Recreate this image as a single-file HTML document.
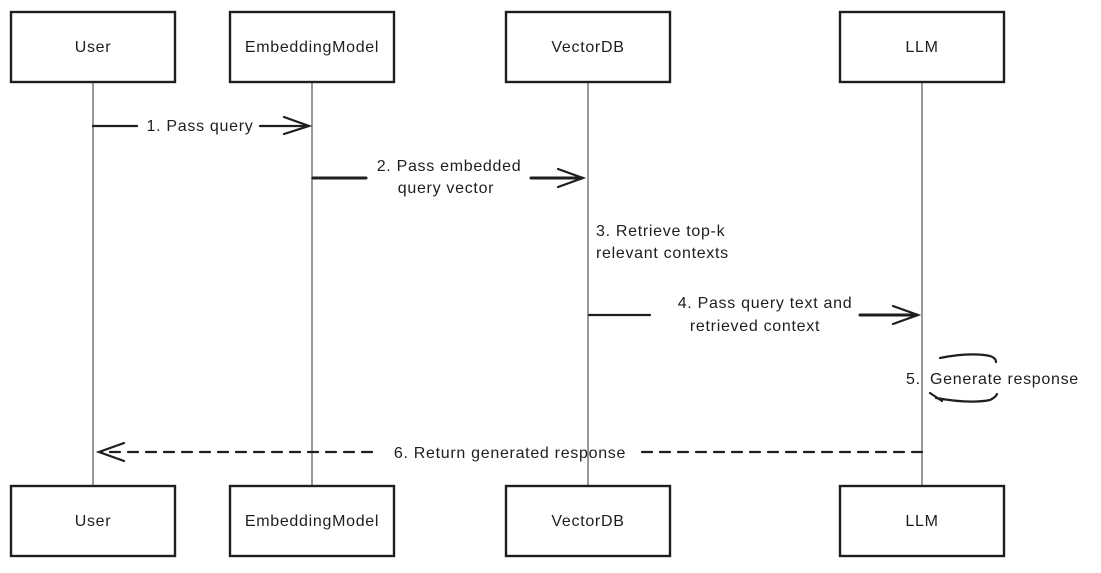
<!DOCTYPE html>
<html><head><meta charset="utf-8"><style>
html,body{margin:0;padding:0;background:#fff;}
svg{display:block;}
text{font-family:"Liberation Sans",sans-serif;font-size:16px;letter-spacing:0.7px;fill:#1e1e1e;}
</style></head><body>
<svg width="1101" height="573" viewBox="0 0 1101 573" xmlns="http://www.w3.org/2000/svg">
<g stroke="#999" stroke-width="2">
<line x1="93" y1="82" x2="93" y2="486"/>
<line x1="312" y1="82" x2="312" y2="486"/>
<line x1="588" y1="82" x2="588" y2="486"/>
<line x1="922" y1="82" x2="922" y2="486"/>
</g>
<g fill="#fff" stroke="#1e1e1e" stroke-width="2.4">
<rect x="11" y="12" width="164" height="70"/>
<rect x="230" y="12" width="164" height="70"/>
<rect x="506" y="12" width="164" height="70"/>
<rect x="840" y="12" width="164" height="70"/>
<rect x="11" y="486" width="164" height="70"/>
<rect x="230" y="486" width="164" height="70"/>
<rect x="506" y="486" width="164" height="70"/>
<rect x="840" y="486" width="164" height="70"/>
</g>
<g text-anchor="middle">
<text x="93" y="52">User</text>
<text x="312" y="52">EmbeddingModel</text>
<text x="588" y="52">VectorDB</text>
<text x="922" y="52">LLM</text>
<text x="93" y="526">User</text>
<text x="312" y="526">EmbeddingModel</text>
<text x="588" y="526">VectorDB</text>
<text x="922" y="526">LLM</text>
</g>
<g stroke="#1e1e1e" stroke-width="2.2" fill="none" stroke-linecap="round">
<line x1="93" y1="126" x2="137" y2="126"/>
<line x1="260" y1="126" x2="308" y2="126"/>
<polyline points="284,117 309,126 284,134"/>
<line x1="313" y1="178" x2="366" y2="178" stroke-width="3"/>
<line x1="531" y1="178" x2="582" y2="178" stroke-width="3"/>
<polyline points="558,169 583,178 558,187"/>
<line x1="589" y1="315" x2="650" y2="315"/>
<line x1="860" y1="315" x2="917" y2="315" stroke-width="3"/>
<polyline points="893,306 918,315 893,324"/>
<path d="M940,358 Q970,352 990,356 Q996,358 996,362"/>
<path d="M930,393 L942,401 M936,398 Q970,404 990,400 Q996,397 997,394"/>
<line x1="922" y1="452" x2="642" y2="452" stroke-dasharray="10,8"/>
<line x1="372" y1="452" x2="100" y2="452" stroke-dasharray="10,8"/>
<polyline points="124,443 99,452 124,461"/>
</g>
<text x="200" y="131" text-anchor="middle">1. Pass query</text>
<text x="449" y="171" text-anchor="middle">2. Pass embedded</text>
<text x="446" y="193" text-anchor="middle">query vector</text>
<text x="596" y="236">3. Retrieve top-k</text>
<text x="596" y="258">relevant contexts</text>
<text x="765" y="308" text-anchor="middle">4. Pass query text and</text>
<text x="755" y="331" text-anchor="middle">retrieved context</text>
<text x="906" y="384">5.</text>
<text x="930" y="384">Generate response</text>
<text x="510" y="458" text-anchor="middle">6. Return generated response</text>
</svg>
</body></html>
